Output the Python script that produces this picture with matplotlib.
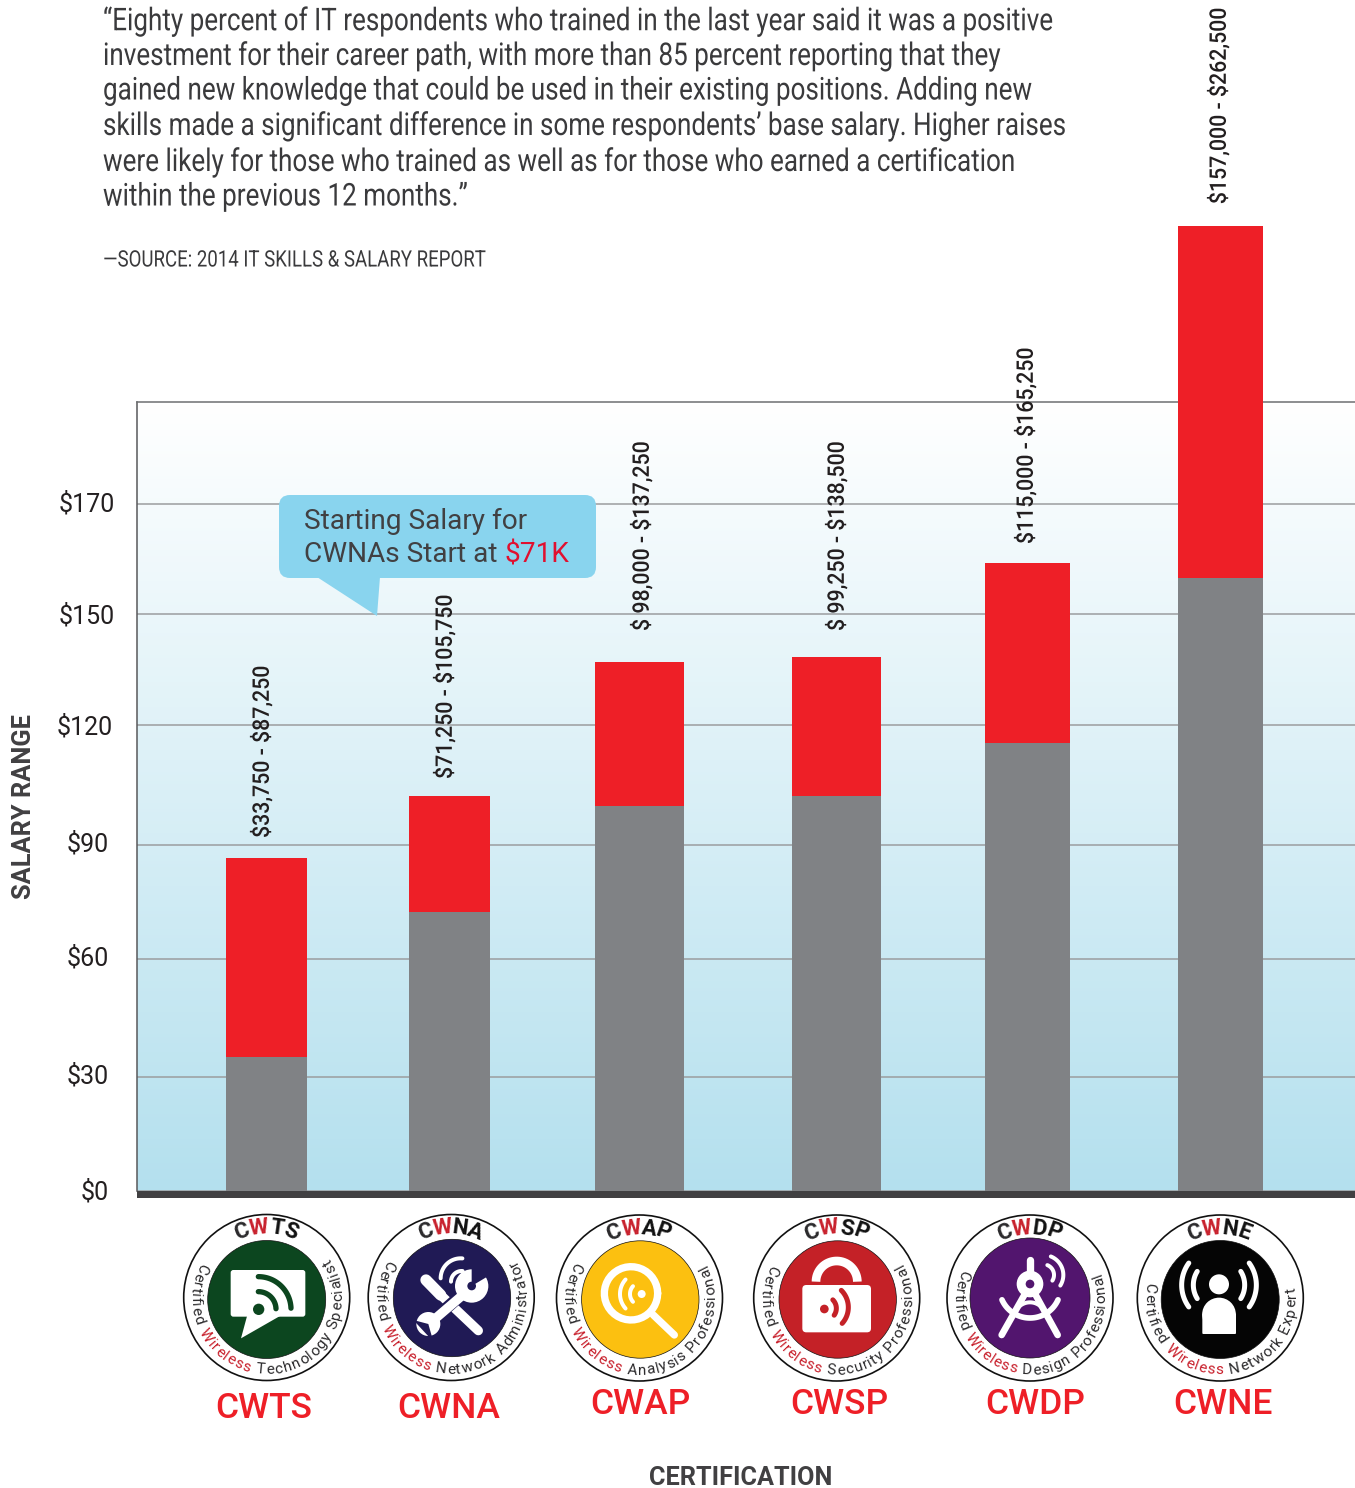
import numpy as np
import matplotlib
matplotlib.use("Agg")
import matplotlib.pyplot as plt
from matplotlib.patches import Circle, FancyBboxPatch, Polygon, Rectangle, Ellipse
from matplotlib.colors import LinearSegmentedColormap
from matplotlib.transforms import ScaledTranslation, Affine2D, Bbox
from matplotlib.font_manager import FontProperties
from matplotlib.textpath import TextToPath
from matplotlib.text import Text
from matplotlib.patheffects import AbstractPathEffect

# ---- data -------------------------------------------------------------
certs = ["CWTS", "CWNA", "CWAP", "CWSP", "CWDP", "CWNE"]
low_values = [34.8, 72.5, 100.0, 102.6, 116.4, 159.2]
high_values = [86.5, 102.6, 137.4, 138.7, 163.1, 250.6]
range_labels = ["$33,750 - $87,250", "$71,250 - $105,750", "$ 98,000 - $137,250",
                "$ 99,250 - $138,500", "$115,000 - $165,250", "$157,000 - $262,500"]
tick_values = [0, 29.7, 60.3, 89.9, 121.0, 149.9, 178.4]
tick_labels = ["$0", "$30", "$60", "$90", "$120", "$150", "$170"]
quote_lines = [
    "“Eighty percent of IT respondents who trained in the last year said it was a positive",
    "investment for their career path, with more than 85 percent reporting that they",
    "gained new knowledge that could be used in their existing positions. Adding new",
    "skills made a significant difference in some respondents’ base salary. Higher raises",
    "were likely for those who trained as well as for those who earned a certification",
    "within the previous 12 months.”",
]
source_text = "—SOURCE: 2014 IT SKILLS & SALARY REPORT"
badge_names = ["Technology Specialist", "Network Administrator", "Analysis Professional",
               "Security Professional", "Design Professional", "Network Expert"]

# ---- layout -----------------------------------------------------------
W, H = 1355, 1488
bar_x = [266.5, 449.5, 639.5, 836.5, 1027.5, 1220.5]
bar_w = [81, 81, 89, 89, 85, 85]
label_dx = [-5, -5, 2, 0, -2, -2]
label_dy = [20, 17, 31, 26, 19, 22]
tick_dx = [0, 0, 0, 0, 4, 6, 6]
tick_dy = [1, 3, 3, 3, 0, 0, 2]
quote_y = [21, 56, 91, 126, 162, 197]
badge_c = [(266.7, 1297.5), (451.2, 1297.5), (639.5, 1298), (836.7, 1298), (1030, 1298), (1220.3, 1298)]
inner_c = [(266.7, 1299.5), (452, 1298), (640.3, 1299.5), (837.7, 1299.5), (1030, 1298), (1220.2, 1299.5)]
inner_r = [59, 58.7, 58.7, 58.7, 60, 59]
inner_col = ["#0c461f", "#201a55", "#fcc010", "#c42127", "#52156e", "#050505"]
ring_ang = [(155, 391), (152, 390), (154, 387), (156, 388), (160, 380), (171, 367)]
name_xy = [(264, 1409), (449, 1409), (640, 1405), (839, 1405), (1035, 1405), (1223, 1405)]

GREY, RED = "#808285", "#ee1f27"
px = 72 / 100


class Squeeze(AbstractPathEffect):
    """Narrow the glyphs along the reading direction, about the text's anchor."""
    def __init__(self, owner):
        super().__init__()
        self.owner = owner
    def draw_path(self, renderer, gc, tpath, affine, rgbFace=None):
        renderer.draw_path(gc, tpath, affine + self.owner.squeeze_affine(), rgbFace)


class CondensedText(Text):
    """Real text drawn in a condensed cut of the font (none is installed)."""
    def __init__(self, *a, squeeze=0.83, **k):
        super().__init__(*a, parse_math=False, **k)
        self.squeeze = squeeze
        self.set_clip_on(False)
        self.set_path_effects([Squeeze(self)])
    def squeeze_affine(self):
        x0, y0 = self.get_transform().transform(self.get_position())
        sx, sy = (1, self.squeeze) if self.get_rotation() == 90 else (self.squeeze, 1)
        return Affine2D().translate(-x0, -y0).scale(sx, sy).translate(x0, y0)
    def get_window_extent(self, renderer=None, dpi=None):
        bb = super().get_window_extent(renderer, dpi)
        return Bbox(self.squeeze_affine().transform(bb.get_points()))


fig = plt.figure(figsize=(W / 100, H / 100), dpi=100, facecolor="white")
PX_PER_UNIT = 3.85
ax = fig.add_axes([137 / W, (H - 1191) / H, (W - 137) / W, (1191 - 402) / H])
ax.set_xlim(137, W)
ax.set_ylim(0, (1191 - 402) / PX_PER_UNIT)
cmap = LinearSegmentedColormap.from_list("bg", ["#ffffff", "#b4e0ee"])
ax.imshow(np.linspace(0, 1, 256)[:, None], cmap=cmap, aspect="auto", origin="upper",
          extent=[137, W, 0, (1191 - 402) / PX_PER_UNIT], zorder=0)
ax.set_yticks(tick_values)
ax.set_yticklabels(tick_labels, family="Roboto", fontsize=18, color="#231f20", parse_math=False)
ax.set_xticks([])
ax.tick_params(axis="y", length=0, pad=20.2)
ax.grid(axis="y", color="#9b9d9f", lw=1.1, zorder=1)
for lab, dx, dy in zip(ax.get_yticklabels(), tick_dx, tick_dy):
    lab.set_transform(lab.get_transform() + ScaledTranslation(dx / 100, dy / 100, fig.dpi_scale_trans))
for s in ["right", "bottom"]:
    ax.spines[s].set_visible(False)
ax.spines["top"].set_color("#6d6f71")
ax.spines["left"].set_color("#58595b")
ax.spines["top"].set_linewidth(1.1)
ax.spines["left"].set_linewidth(1.1)

ax.bar(bar_x, low_values, width=bar_w, color=GREY, zorder=3, clip_on=False)
ax.bar(bar_x, np.array(high_values) - np.array(low_values), bottom=low_values, width=bar_w,
       color=RED, zorder=3, clip_on=False)
for x, y, s, dx, dy in zip(bar_x, high_values, range_labels, label_dx, label_dy):
    off = ScaledTranslation(dx / 100, dy / 100, fig.dpi_scale_trans)
    ax.add_artist(CondensedText(x, y, s, squeeze=0.93, transform=ax.transData + off, rotation=90,
                                ha="center", va="bottom", family="Roboto", fontsize=16.5,
                                weight="medium", color="#231f20", zorder=5))

# ---- overlay in pixel coordinates -------------------------------------
ov = fig.add_axes([0, 0, 1, 1], facecolor="none")
ov.set_xlim(0, W)
ov.set_ylim(H, 0)
ov.axis("off")

ov.add_patch(Rectangle((137, 1191), W - 137, 7, color="#414042", lw=0, zorder=4))
for s, y in zip(quote_lines, quote_y):
    ov.add_artist(CondensedText(103, y, s, squeeze=0.83, family="Roboto", fontsize=22.6,
                                color="#3a3a3c", va="center", ha="left", transform=ov.transData))
ov.add_artist(CondensedText(103, 260, source_text, squeeze=0.823, family="Roboto", fontsize=16.3,
                            color="#3a3a3c", va="center", ha="left", transform=ov.transData))
ov.text(24, 807, "SALARY RANGE", rotation=90, family="Roboto", weight="bold", fontsize=18.3,
        color="#414042", ha="center", va="center")
ov.text(741, 1478, "CERTIFICATION", family="Roboto", weight="bold", fontsize=18.2,
        color="#414042", ha="center", va="center")

# callout
BUB = "#89d4ee"
ov.add_patch(FancyBboxPatch((288, 504), 299, 65, boxstyle="round,pad=9,rounding_size=11",
                            fc=BUB, ec="none", zorder=6))
ov.add_patch(Polygon([(317, 577), (380, 577), (377, 616)], fc=BUB, ec="none", zorder=6))
ov.text(304, 521, "Starting Salary for", family="Roboto", fontsize=20.2, color="#414042", va="center", zorder=7)
ov.text(304, 555, "CWNAs Start at ", family="Roboto", fontsize=20.2, color="#414042", va="center", zorder=7)
ov.text(505, 555, "$71K", family="Roboto", fontsize=20.2, color="#e0102f", va="center", zorder=7,
        parse_math=False)

# curved text
ttp = TextToPath()
def adv(ch, fp):
    return ttp.get_text_width_height_descent(ch, fp, False)[0] * 100 / 72

def ring_text(cx, cy, r, s, colors, a0, a1, size, weight="normal"):
    """Spread the characters of s along the arc a0 -> a1 (degrees, y up)."""
    fp = FontProperties(family="Roboto", size=size, weight=weight)
    w = np.array([adv(c if c != " " else "n", fp) * (0.55 if c == " " else 1) for c in s])
    mids = np.cumsum(w) - w / 2
    frac = (mids - mids[0]) / (mids[-1] - mids[0])
    for c, f, col in zip(s, frac, colors):
        if c == " ":
            continue
        th = a0 + (a1 - a0) * f
        t = np.radians(th)
        rot = th + 90 if a1 > a0 else th - 90
        ov.text(cx + r * np.cos(t), cy - r * np.sin(t), c, rotation=rot, rotation_mode="anchor",
                ha="center", va="center", color=col, fontproperties=fp, zorder=8)

class Z:
    """Draw icon shapes in units of 1/3 pixel relative to an origin."""
    def __init__(self, ox):
        self.ox, self.oy = ox, 1200
    def P(self, x, y):
        return self.ox + x / 3, self.oy + y / 3
    def line(self, pts, lw, col="white", cap="round"):
        p = np.array([self.P(*q) for q in pts])
        ov.plot(p[:, 0], p[:, 1], color=col, lw=lw / 3 * px, solid_capstyle=cap, zorder=9)
    def arc(self, c, r, a0, a1, lw, col="white", cap="round"):
        t = np.radians(np.linspace(a0, a1, 40))
        self.line(list(zip(c[0] + r * np.cos(t), c[1] - r * np.sin(t))), lw, col, cap)
    def circ(self, c, r, col="white"):
        x, y = self.P(*c)
        ov.add_patch(Circle((x, y), r / 3, fc=col, ec="none", zorder=9))
    def poly(self, pts, col="white"):
        ov.add_patch(Polygon([self.P(*q) for q in pts], fc=col, ec="none", zorder=9))
    def rrect(self, x0, y0, x1, y1, rad, col="white"):
        a, b = self.P(x0, y0)
        c, d = self.P(x1, y1)
        rr = rad / 3
        ov.add_patch(FancyBboxPatch((a + rr, b + rr), c - a - 2 * rr, d - b - 2 * rr,
                                    boxstyle=f"round,pad={rr},rounding_size={rr}",
                                    fc=col, ec="none", zorder=9))

DK, WR = "#2b2a2c", "#c8202c"
for i, cert in enumerate(certs):
    cx, cy = badge_c[i]
    ov.add_patch(Circle((cx, cy), 83, fc="white", ec="#111111", lw=1.2, zorder=7))
    ov.add_patch(Circle(inner_c[i], inner_r[i], fc=inner_col[i], ec="#111111", lw=0.5, zorder=8))
    ring_text(cx, cy + 1, 71, cert, [DK, WR, "#111111", "#111111"], 111, 70, 16, "bold")
    txt = "Certified Wireless " + badge_names[i]
    cols = [DK] * 9 + [DK] + [WR] * 8 + [DK] * (1 + len(badge_names[i]))
    ring_text(cx, cy + 1, 71.5, txt, cols, ring_ang[i][0], ring_ang[i][1], 11)
    ov.text(*name_xy[i], cert, family="Roboto", weight="medium", fontsize=25.5, color=RED,
            ha="center", va="center", zorder=8)

# CWTS icon
z = Z(170); g = inner_col[0]
z.rrect(182, 210, 406, 350, 8)
z.poly([(232, 345), (213, 415), (330, 348)])
z.circ((266, 328), 17, g)
z.arc((265, 328), 98, 90, 2, 16, g)
z.arc((265, 328), 53, 90, 2, 16, g)

# CWNA icon
z = Z(170); g = inner_col[1]
z.line([(768, 240), (812, 285)], 34)
z.line([(812, 285), (925, 392)], 28)
z.line([(775, 372), (900, 262)], 36, g)
z.line([(785, 365), (890, 275)], 28)
z.circ((905, 258), 50)
z.poly([(905, 258), (905, 190), (965, 222)], g)
z.circ((905, 258), 13, g)
z.circ((775, 372), 36)
z.poly([(775, 372), (730, 360), (790, 425)], g)
z.arc((872, 235), 60, 85, 180, 12)
z.arc((875, 245), 32, 85, 180, 12)

# CWAP icon
z = Z(545); g = inner_col[2]
z.arc((258, 280), 80, 0, 360, 22)
z.line([(325, 345), (388, 405)], 22)
z.circ((290, 282), 12)
z.arc((290, 282), 35, 138, 222, 12)
z.arc((290, 282), 65, 138, 222, 12)

# CWSP icon
z = Z(545); g = inner_col[3]
z.arc((875, 245), 62, 0, 180, 26, cap="butt")
z.rrect(772, 255, 978, 397, 12)
z.circ((838, 327), 13, g)
z.arc((838, 325), 36, 45, -35, 15, g)
z.arc((838, 322), 72, 45, -42, 15, g)

# CWDP icon
z = Z(935); g = inner_col[4]
z.line([(285, 180), (285, 215)], 22)
z.circ((285, 252), 40)
z.circ((285, 252), 13, g)
z.line([(268, 285), (200, 405)], 20)
z.line([(302, 285), (368, 405)], 20)
z.arc((285, 262), 92, -24, -156, 17)
z.arc((285, 355), 48, 140, 40, 12)
z.arc((325, 225), 60, 68, -32, 12)
z.arc((325, 225), 32, 68, -32, 12)

# CWNE icon
z = Z(935); g = inner_col[5]
z.circ((852, 253), 30)
x0, y0 = z.P(852, 343)
ov.add_patch(Ellipse((x0, y0), 101 / 3, 100 / 3, fc="white", ec="none", zorder=9))
z.rrect(802, 340, 903, 402, 3)
z.arc((852, 255), 112, 144, 216, 15)
z.arc((852, 255), 77, 148, 212, 15)
z.arc((852, 255), 112, 36, -36, 15)
z.arc((852, 255), 77, 32, -32, 15)

fig.savefig("out.png", dpi=100)
